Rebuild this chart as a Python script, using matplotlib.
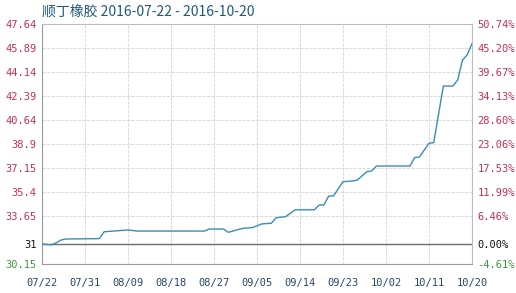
import matplotlib
matplotlib.use("Agg")
import matplotlib.pyplot as plt
import pandas as pd

# Price points (vertices of the line)
dates = ["2016-07-22", "2016-07-24", "2016-07-25", "2016-07-26", "2016-07-27",
         "2016-08-03", "2016-08-04", "2016-08-09", "2016-08-11", "2016-08-25",
         "2016-08-26", "2016-08-29", "2016-08-30", "2016-09-02", "2016-09-04",
         "2016-09-06", "2016-09-08", "2016-09-09", "2016-09-11", "2016-09-13",
         "2016-09-17", "2016-09-18", "2016-09-19", "2016-09-20", "2016-09-21",
         "2016-09-23", "2016-09-25", "2016-09-26", "2016-09-28", "2016-09-29",
         "2016-09-30", "2016-10-07", "2016-10-08", "2016-10-09", "2016-10-11",
         "2016-10-12", "2016-10-14", "2016-10-16", "2016-10-17", "2016-10-18",
         "2016-10-19", "2016-10-20"]
prices = [31.60, 31.55, 31.70, 31.90, 31.97,
          32.00, 32.50, 32.63, 32.55, 32.55,
          32.70, 32.70, 32.46, 32.75, 32.80,
          33.07, 33.12, 33.52, 33.60, 34.10,
          34.10, 34.45, 34.45, 35.10, 35.11,
          36.15, 36.20, 36.27, 36.88, 36.93,
          37.29, 37.29, 37.90, 37.95, 38.95,
          39.00, 43.12, 43.12, 43.56, 45.00,
          45.40, 46.20]

base = 31.607
y_ticks = [30.15, base, 33.65, 35.4, 37.15, 38.9, 40.64, 42.39, 44.14, 45.89, 47.64]
left_labels = ["30.15", "31", "33.65", "35.4", "37.15", "38.9", "40.64", "42.39",
               "44.14", "45.89", "47.64"]
right_labels = ["-4.61%", "0.00%", "6.46%", "11.99%", "17.53%", "23.06%", "28.60%",
                "34.13%", "39.67%", "45.20%", "50.74%"]
x_labels = ["07/22", "07/31", "08/09", "08/18", "08/27", "09/05", "09/14",
            "09/23", "10/02", "10/11", "10/20"]

red = "#c8324e"
green = "#3c9a3c"
mono = "DejaVu Sans Mono"

x = pd.to_datetime(dates)
start = pd.Timestamp("2016-07-22")
x_ticks = [start + pd.Timedelta(days=9 * i) for i in range(len(x_labels))]

fig = plt.figure(figsize=(5.16, 2.93), dpi=100)
ax = fig.add_axes([42 / 516, 29 / 293, 430 / 516, 240 / 293])

ax.plot(x, prices, color="#3b8db3", linewidth=1.0, zorder=3)
ax.axhline(base, color="#6e6e6e", linewidth=1.0, zorder=2)

ax.set_xlim(start, pd.Timestamp("2016-10-20"))
ax.set_ylim(30.15, 47.64)
ax.set_xticks(x_ticks)
ax.set_xticklabels(x_labels, fontsize=7.5, family=mono, color="#26486a")
ax.set_yticks(y_ticks)
ax.set_yticklabels(left_labels, fontsize=7.5, family=mono)
for lab, v in zip(ax.get_yticklabels(), y_ticks):
    lab.set_color("#111111" if v == base else (green if v == 30.15 else red))
ax.tick_params(axis="both", length=0)
ax.tick_params(axis="x", pad=10)
ax.tick_params(axis="y", pad=4)

ax.grid(True, color="#dcdcdc", linewidth=0.8, linestyle=(0, (3, 1)))
for s in ax.spines.values():
    s.set_color("#bdbdbd")
    s.set_linewidth(0.8)
ax.spines["left"].set_color("#9a9a9a")
ax.spines["bottom"].set_color("#9a9a9a")

ax2 = ax.twinx()
ax2.set_ylim(ax.get_ylim())
ax2.set_yticks(y_ticks)
ax2.set_yticklabels(right_labels, fontsize=7.5, family=mono)
for lab, v in zip(ax2.get_yticklabels(), y_ticks):
    lab.set_color("#111111" if v == base else (green if v == 30.15 else red))
ax2.tick_params(axis="y", length=0, pad=4)
for s in ax2.spines.values():
    s.set_visible(False)

fig.text(42 / 516, 1 - 12 / 293, "顺丁橡胶 2016-07-22 - 2016-10-20",
         family=["Noto Sans CJK SC", "DejaVu Sans"], fontsize=10,
         color="#1f5a78", va="center", ha="left")

fig.savefig("out.png", dpi=100)
